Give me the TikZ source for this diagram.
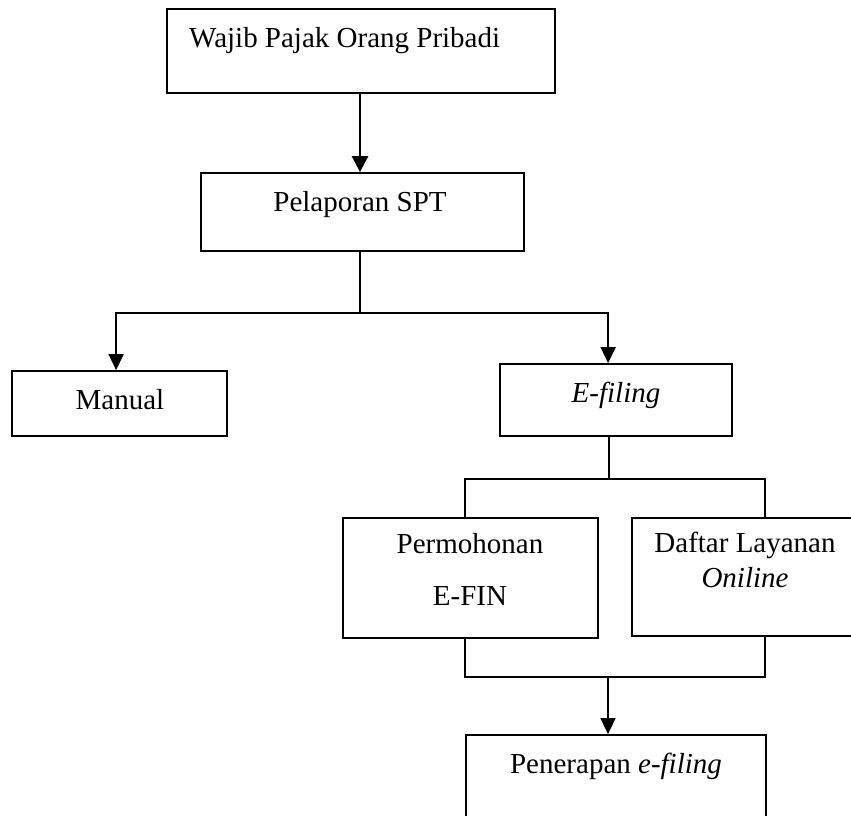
\documentclass[tikz,border=0pt]{standalone}
\usepackage{fontspec}
\setmainfont{Liberation Serif}
\usetikzlibrary{arrows.meta}
\begin{document}
\begin{tikzpicture}[x=1pt,y=-1pt,
  box/.style={draw, line width=1.8pt, rectangle, inner sep=0pt},
  lbl/.style={inner sep=0pt, anchor=base, font=\fontsize{29}{35}\selectfont},
  conn/.style={line width=1.6pt},
  arr/.style={conn, -{Triangle[width=15pt,length=16pt]}},
  thickarr/.style={line width=2.6pt, -{Triangle[width=16pt,length=16pt]}}]
\useasboundingbox (0,0) rectangle (851,816);
\clip (0,0) rectangle (851,816);
% boxes
\node[box, minimum width=388pt, minimum height=84pt] (wp) at (361,51) {};
\node[box, minimum width=323pt, minimum height=78pt] (spt) at (362.5,212) {};
\node[box, minimum width=215pt, minimum height=65pt] (man) at (119.5,403.5) {};
\node[box, minimum width=232pt, minimum height=72pt] (ef) at (616,400) {};
\node[box, minimum width=255pt, minimum height=120pt] (pm) at (470.5,578) {};
\node[box, minimum width=226pt, minimum height=118pt] (dl) at (745,577) {};
\node[box, minimum width=300pt, minimum height=100pt] (pn) at (616,785) {};
% texts
\node[lbl, anchor=base west] (t1) at (189,48) {Wajib Pajak Orang Pribadi};
\node[lbl] (t2) at (360,211) {Pelaporan SPT};
\node[lbl] (t3) at (120,409) {Manual};
\node[lbl] (t4) at (616,402) {\textit{E-filing}};
\node[lbl] (t5) at (470,553) {Permohonan};
\node[lbl] (t6) at (470,605) {E-FIN};
\node[lbl] (t7) at (745,552) {Daftar Layanan};
\node[lbl] (t8) at (745,587) {\textit{Oniline}};
\node[lbl] (t9) at (616,773) {Penerapan \textit{e-filing}};
% connectors
\coordinate (j0) at (360,93);
\draw[thickarr] (j0 |- wp.south) -- (j0 |- spt.north);
\coordinate (j1) at (360,313);
\draw[conn] (j1 |- spt.south) -- (j1);
\draw[arr] (j1) -| ([xshift=105pt]man.north west);
\draw[arr] (j1) -| ([xshift=109pt]ef.north west);
\coordinate (j2) at (609,479);
\draw[conn] (j2 |- ef.south) -- (j2);
\draw[conn] ([xshift=123pt]pm.north west) |- (j2) -| ([xshift=134pt]dl.north west);
\coordinate (j3) at (608,677);
\draw[conn] ([xshift=123pt]pm.south west) |- (j3) -| ([xshift=134pt]dl.south west);
\draw[arr] (j3) -- (j3 |- pn.north);
\end{tikzpicture}
\end{document}
